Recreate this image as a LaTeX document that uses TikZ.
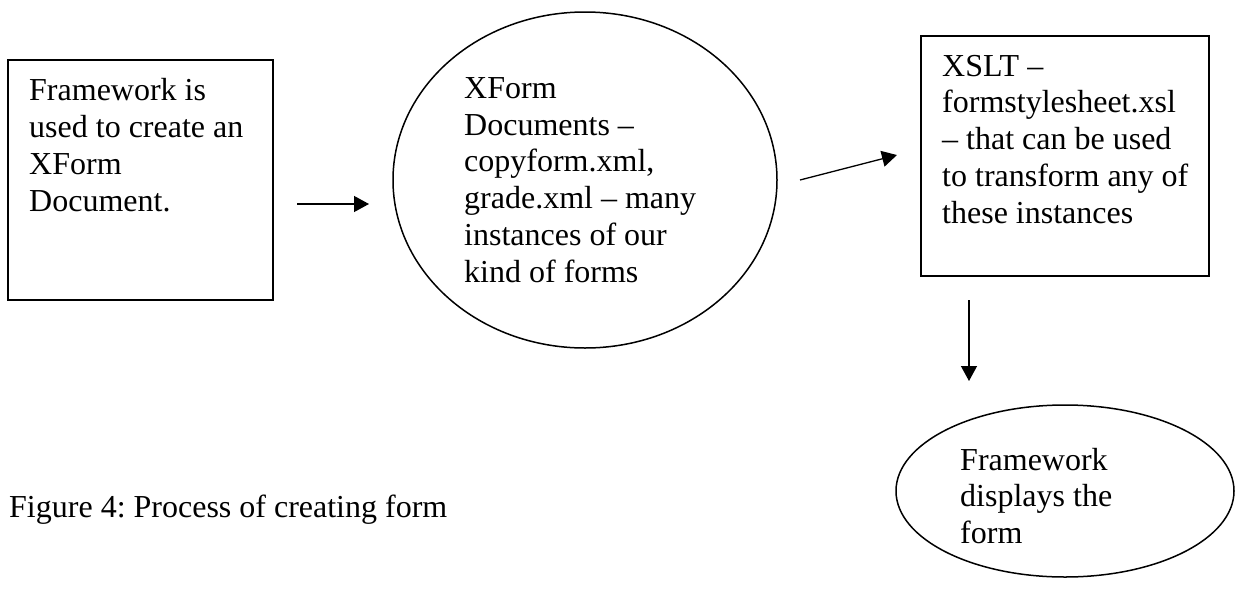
\documentclass[tikz,border=0pt]{standalone}
\usepackage{fontspec}
\setmainfont{Liberation Serif}
\usetikzlibrary{shapes.geometric,arrows.meta}
\frenchspacing
\begin{document}
\begin{tikzpicture}[x=1pt,y=-1pt,
  every node/.style={font=\fontsize{32}{36.8}\selectfont},
  boxshape/.style={draw,line width=1.8pt,rectangle,inner sep=0pt},
  ovalshape/.style={draw,line width=1.5pt,ellipse,inner sep=0pt},
  txt/.style={anchor=base west,align=left,inner sep=0pt},
  flow/.style={line width=1.3pt,-{Triangle[length=15pt,width=16pt]}}]
\useasboundingbox (0,0) rectangle (1235,598);

% framework box (text placed by the baseline of its last line)
\node[boxshape,minimum width=265pt,minimum height=240pt] (fw) at (140.5,180) {};
\node[txt] (fwtext) at (29,211.1) {Framework is\\used to create an\\XForm\\Document.};

% XForm documents
\node[ovalshape,minimum width=384pt,minimum height=336pt] (xf) at (585,180) {};
\node[txt] (xftext) at (464,282.3) {XForm\\Documents --\\copyform.xml,\\grade.xml -- many\\instances of our\\kind of forms};

% stylesheet box
\node[boxshape,minimum width=288pt,minimum height=240pt] (xs) at (1065,156) {};
\node[txt] (xstext) at (942,223.2) {XSLT --\\formstylesheet.xsl\\-- that can be used\\to transform any of\\these instances};

% display oval
\node[ovalshape,minimum width=338pt,minimum height=172pt] (ds) at (1065,491) {};
\node[txt] (dstext) at (960,543.6) {Framework\\displays the\\form};

% caption
\node[txt] (cap) at (9,517) {Figure 4: Process of creating form};

% connectors
\coordinate (a1s) at (297,204);
\coordinate (a1e) at (369,204);
\coordinate (a2s) at (800,180);
\coordinate (a2e) at (897,155);
\coordinate (a3s) at (969,300);
\coordinate (a3e) at (969,381);
\draw[flow] (a1s) -- (a1e);
\draw[flow] (a2s) -- (a2e);
\draw[flow] (a3s) -- (a3e);
\end{tikzpicture}
\end{document}
